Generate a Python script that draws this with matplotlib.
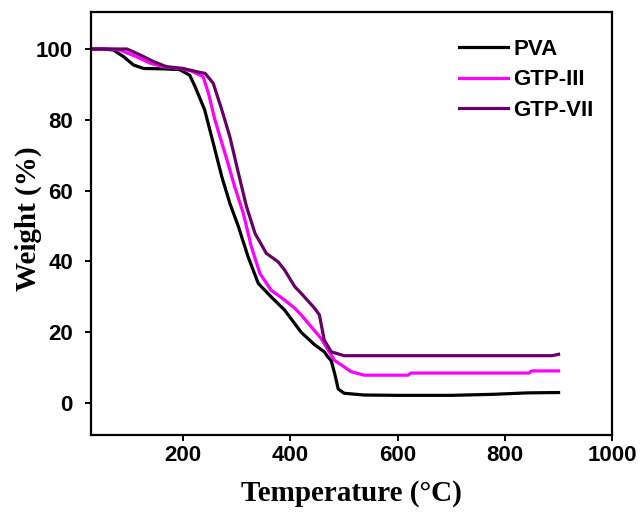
import matplotlib.pyplot as plt

# TGA data
pva_t = [30, 50, 70, 89, 107, 126, 160, 193, 212, 222, 240, 256, 272, 287, 303, 321, 340,
         364, 389, 420, 445, 463, 470, 476, 483, 489, 500, 537, 600, 700, 779, 842, 900]
pva_w = [100, 100, 99.7, 97.8, 95.5, 94.5, 94.4, 94.2, 92.6, 89.4, 82.8, 73.4, 63.9, 56.4, 49.8,
         41.3, 33.8, 30.0, 26.3, 20.0, 16.5, 14.5, 13.0, 12.0, 8.0, 4.0, 2.8, 2.3, 2.2, 2.2, 2.5,
         2.9, 3.0]

gtp3_t = [30, 60, 82, 113, 138, 163, 194, 215, 237, 247, 259, 278, 296, 312, 327, 343, 364,
          389, 408, 420, 457, 482, 513, 537, 619, 625, 845, 850, 900]
gtp3_w = [100, 100, 99.7, 97.8, 96.0, 95.0, 94.5, 93.8, 92.2, 87.5, 80.0, 70.5, 61.1, 53.6,
          44.2, 36.6, 31.9, 29.1, 26.8, 24.9, 18.3, 12.1, 8.9, 7.9, 7.9, 8.5, 8.5, 9.1, 9.1]

gtp7_t = [30, 70, 95, 120, 145, 169, 200, 225, 241, 256, 272, 287, 303, 318, 334, 355, 377,
          389, 408, 420, 445, 454, 463, 476, 500, 600, 888, 900]
gtp7_w = [100, 100, 100, 98.3, 96.4, 95.0, 94.5, 93.6, 93.1, 90.3, 82.8, 75.2, 64.9, 55.5,
          47.9, 42.3, 39.9, 37.6, 32.9, 31.0, 26.8, 24.9, 17.8, 14.5, 13.4, 13.4, 13.4, 13.8]

x_ticks = [200, 400, 600, 800, 1000]
y_ticks = [0, 20, 40, 60, 80, 100]

fig = plt.figure(figsize=(6.41, 5.13), dpi=100, facecolor='white')
ax = fig.add_axes([0.142, 0.152, 0.813, 0.825])

ax.plot(pva_t, pva_w, color='black', lw=2.3, label='PVA')
ax.plot(gtp3_t, gtp3_w, color='#ff00ff', lw=2.3, label='GTP-III')
ax.plot(gtp7_t, gtp7_w, color='#660066', lw=2.3, label='GTP-VII')

ax.set_xlim(28, 1000)
ax.set_ylim(-9, 110.5)
ax.set_xticks(x_ticks)
ax.set_yticks(y_ticks)
for s in ax.spines.values():
    s.set_linewidth(1.6)
ax.tick_params(direction='out', length=4, width=1.4, top=False, right=False)
ax.tick_params(axis='y', pad=9)
for lab in ax.get_xticklabels() + ax.get_yticklabels():
    lab.set_fontfamily('Liberation Sans')
    lab.set_fontweight('bold')
    lab.set_fontsize(16)

ax.set_xlabel('Temperature (°C)', fontfamily='Liberation Serif', fontweight='bold',
              fontsize=21, labelpad=10)
ax.set_ylabel('Weight (%)', fontfamily='Liberation Serif', fontweight='bold', fontsize=21)
ax.yaxis.set_label_coords(-0.094, 0.51)

ax.legend(loc='upper right', bbox_to_anchor=(0.981, 0.957), frameon=False,
          prop={'family': 'Liberation Sans', 'weight': 'bold', 'size': 16},
          handlelength=2.2, handletextpad=0.25, labelspacing=0.43, borderaxespad=0)

fig.savefig('out.png', dpi=100)
